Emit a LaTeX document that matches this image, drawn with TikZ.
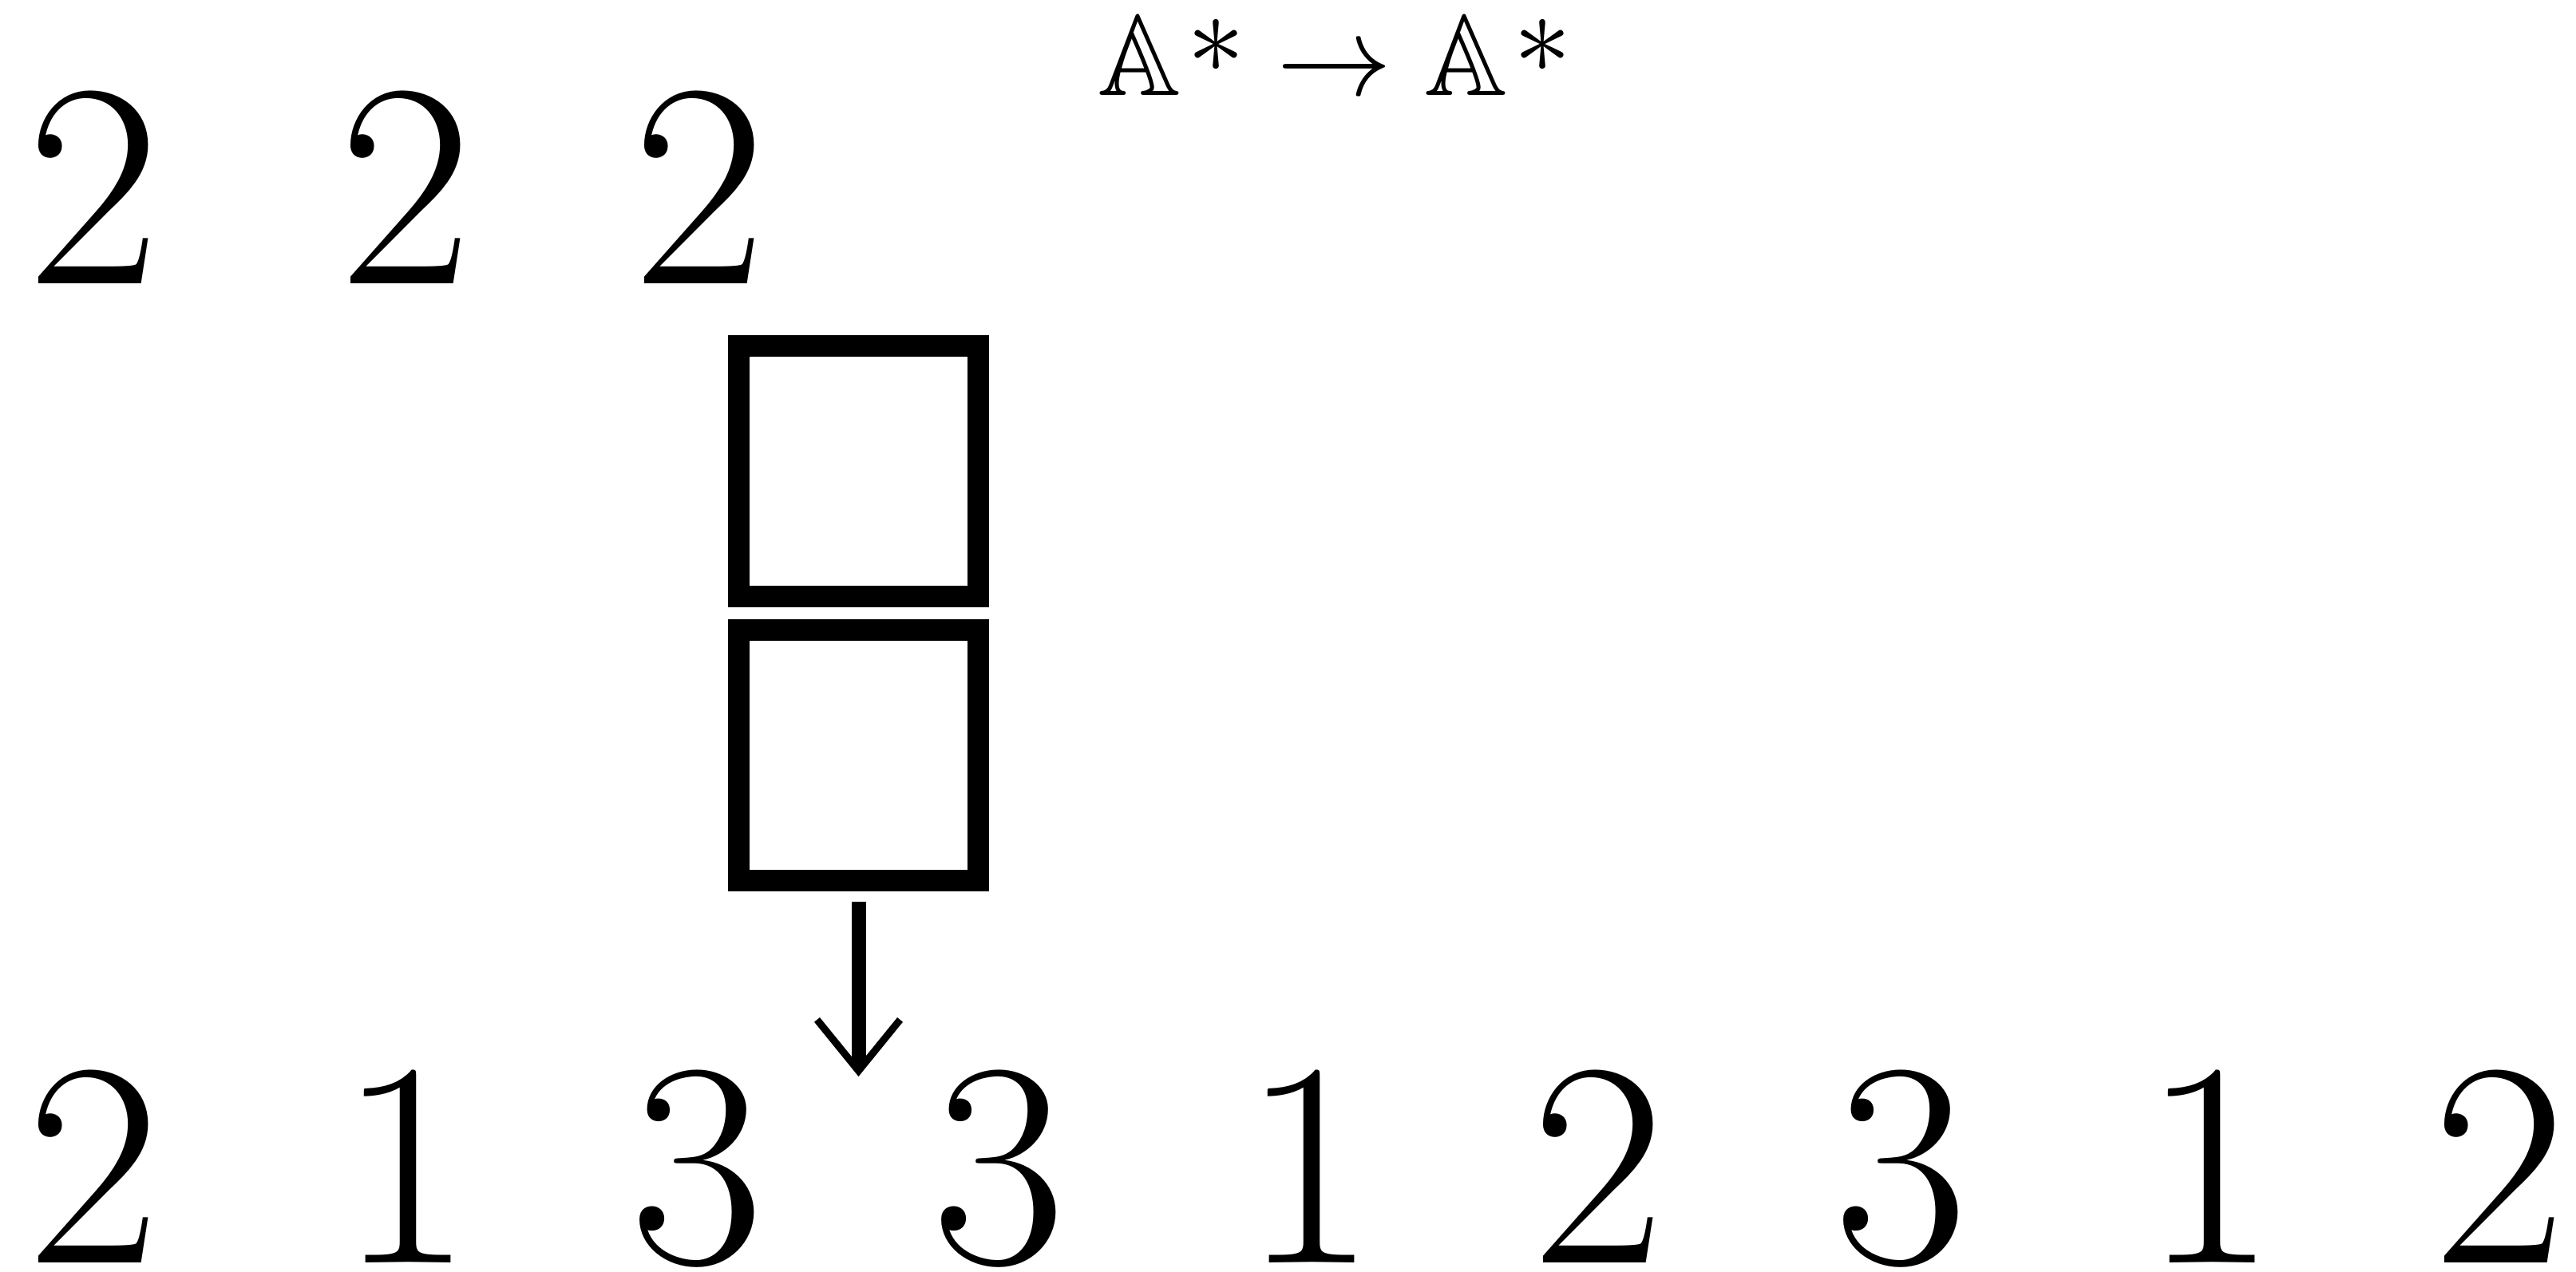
\documentclass[tikz,border=0pt]{standalone}
\usepackage{amssymb}
\usepackage{fontspec}
\usetikzlibrary{arrows.meta,positioning}
\tikzset{
  digit/.style={anchor=base, inner sep=0pt, font=\fontsize{104}{104}\selectfont},
  mapping/.style={anchor=base, inner sep=0pt, font=\Huge, scale=1.65, transform shape},
  cell/.style={
    draw=black,
    line width=0.27cm,
    minimum width=3cm,
    minimum height=3.14cm,
    inner sep=0pt
  },
  flow/.style={-{Straight Barb[length=0.64cm, width=1.04cm, line width=0.09cm]}, line width=0.18cm}
}
\newcommand{\up}{\raisebox{0.2em}{$\ast$}}

\begin{document}
\begin{tikzpicture}
  \useasboundingbox (0,0) rectangle (32.27,15.93);

  \node[digit] (top1) at (1.17,12.37) {2};
  \node[digit] (top2) at (5.08,12.37) {2};
  \node[digit] (top3) at (8.76,12.37) {2};
  \node[mapping] (map) at (16.72,14.73) {$\mathbb{A}\mkern1mu\up\to\mathbb{A}\mkern1mu\up$};

  \node[cell] (cella) at (10.755,10.02) {};
  \node[cell, below=0.15cm of cella] (cellb) {};

  \node[digit] (out1) at (1.17,0.11) {2};
  \node[digit] (out2) at (5.08,0.11) {1};
  \node[digit] (out3) at (8.73,0.11) {3};
  \node[digit] (out4) at (12.51,0.11) {3};
  \node[digit] (out5) at (16.40,0.11) {1};
  \node[digit] (out6) at (20.02,0.11) {2};
  \node[digit] (out7) at (23.81,0.11) {3};
  \node[digit] (out8) at (27.68,0.11) {1};
  \node[digit] (out9) at (31.31,0.11) {2};

  \coordinate (tip) at (10.755,2.44);
  \draw[flow, shorten <=0.13cm] (cellb.south) -- (tip);
\end{tikzpicture}
\end{document}
